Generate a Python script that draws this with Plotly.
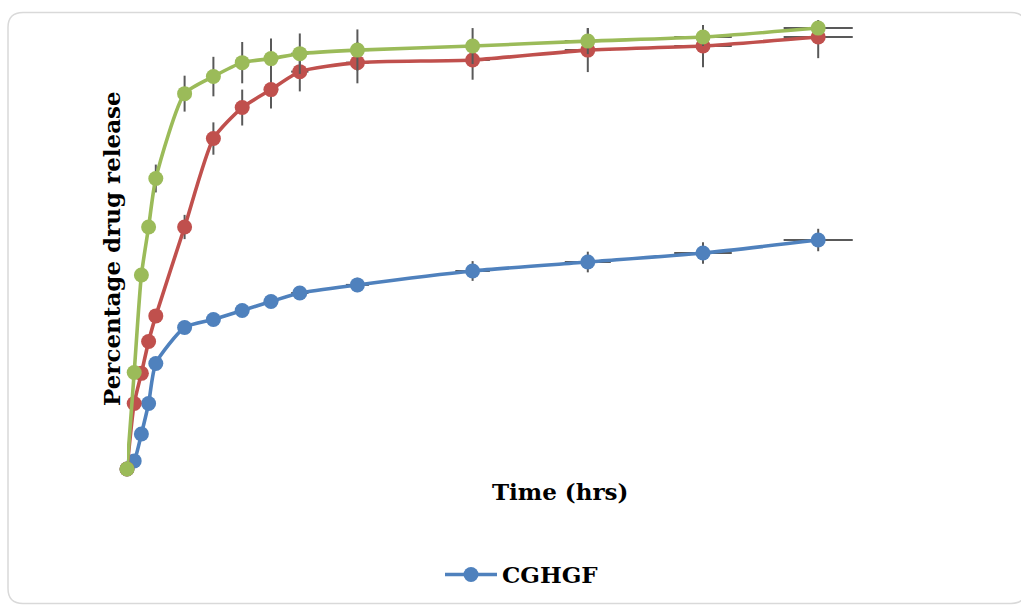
import plotly.graph_objects as go

# ---- data ----
time_hrs = [0, 0.25, 0.5, 0.75, 1, 2, 3, 4, 5, 6, 8, 12, 16, 20, 24]
cghgf = [0, 1.8, 7.8, 14.6, 23.5, 31.5, 33.3, 35.3, 37.3, 39.2, 41.0, 44.1, 46.1, 48.1, 51.0]
cghgf_err = [0, 0.3, 0.5, 0.6, 0.8, 1.0, 1.0, 1.2, 1.4, 1.5, 1.6, 2.2, 2.3, 2.4, 2.5]
series2 = [0, 14.6, 21.3, 28.4, 34.1, 53.9, 73.6, 80.5, 84.5, 88.5, 90.5, 91.1, 93.3, 94.2, 96.2]
series2_err = [0, 0.5, 0.6, 0.8, 1.0, 2.7, 3.6, 4.0, 4.2, 4.4, 4.6, 4.4, 4.9, 4.7, 4.7]
series3 = [0, 21.5, 43.2, 53.9, 64.7, 83.6, 87.4, 90.5, 91.4, 92.5, 93.3, 94.2, 95.3, 96.2, 98.2]
series3_err = [0, 0.6, 1.0, 1.5, 3.1, 4.0, 4.4, 4.6, 4.5, 4.5, 4.6, 4.0, 2.9, 2.0, 0.4]

BLUE, RED, GREEN = "#4F81BD", "#C0504D", "#9BBB59"
ERR = "#595959"
FONT = "DejaVu Serif"

W, H = 1021, 608
L, R, T, B = 127, 168, 20, 137
PW, PH = W - L - R, H - T - B


def px(x):
    return (x - L) / PW


def py(y):
    return (H - B - y) / PH


fig = go.Figure()


def add(name, y, err, color, show):
    fig.add_trace(go.Scatter(
        x=time_hrs, y=y, name=name, mode="lines+markers",
        line=dict(color=color, width=3.6, shape="spline", smoothing=0.6),
        marker=dict(color=color, size=15),
        error_y=dict(type="data", array=err, visible=True, color=ERR, thickness=2, width=0),
        error_x=dict(type="percent", value=5, visible=True, color=ERR, thickness=2, width=0),
        showlegend=show, cliponaxis=False,
    ))


add("CGHGF", cghgf, cghgf_err, BLUE, True)
add("Series 2", series2, series2_err, RED, False)
add("Series 3", series3, series3_err, GREEN, False)

axis_common = dict(showgrid=False, zeroline=False, showline=False, showticklabels=False, ticks="")

# rounded border
x0, y0, x1, y1, r = px(8), py(606), px(1026), py(12.5), 15
rx, ry = r / PW, r / PH
path = (f"M {x0+rx},{y1} L {x1-rx},{y1} Q {x1},{y1} {x1},{y1-ry} "
        f"L {x1},{y0+ry} Q {x1},{y0} {x1-rx},{y0} L {x0+rx},{y0} "
        f"Q {x0},{y0} {x0},{y0+ry} L {x0},{y1-ry} Q {x0},{y1} {x0+rx},{y1} Z")

fig.update_layout(
    width=W, height=H,
    margin=dict(l=L, r=R, t=T, b=B),
    paper_bgcolor="white", plot_bgcolor="white",
    xaxis=dict(range=[0, PW / 28.8], **axis_common),
    yaxis=dict(range=[0, 100], **axis_common),
    font=dict(family=FONT, color="black"),
    legend=dict(orientation="h", x=px(522), xanchor="center", y=py(577), yanchor="middle",
                font=dict(family=FONT, size=23, color="black", weight="bold"),
                itemwidth=52, bgcolor="rgba(0,0,0,0)"),
    shapes=[dict(type="path", path=path, xref="paper", yref="paper",
                 line=dict(color="#D9D9D9", width=1.5), layer="below")],
    annotations=[
        dict(text="<b>Percentage drug release</b>", x=px(112), y=py(250), xref="paper", yref="paper",
             textangle=-90, showarrow=False, xanchor="center", yanchor="middle",
             font=dict(family=FONT, size=23, color="black")),
        dict(text="<b>Time (hrs)</b>", x=px(560), y=py(494), xref="paper", yref="paper",
             showarrow=False, xanchor="center", yanchor="middle",
             font=dict(family=FONT, size=23, color="black")),
    ],
)

fig.write_html("out.html")
